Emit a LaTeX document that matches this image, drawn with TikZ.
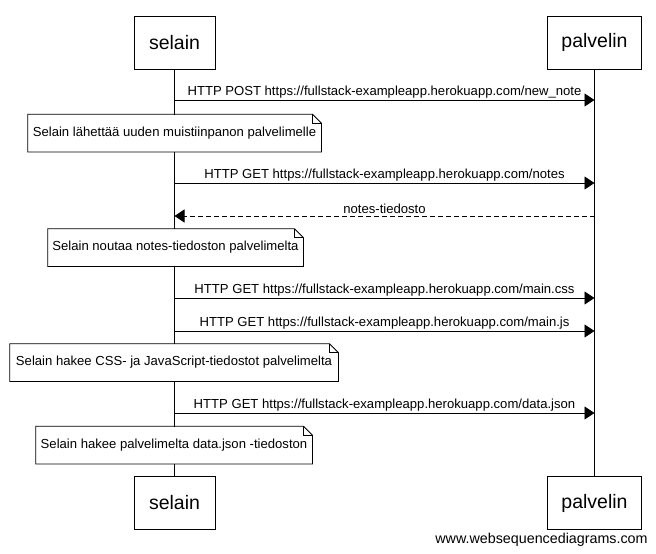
\documentclass[tikz,border=0pt]{standalone}
\usepackage{fontspec}
\setmainfont{Liberation Sans}
\usetikzlibrary{arrows.meta, calc}

% outline of a note with a folded corner
\newcommand{\foldnote}[1]{%
  \draw (#1.north west) -- ($(#1.north east)+(-9,0)$) -- ($(#1.north east)+(0,9)$)
    -- (#1.south east) -- (#1.south west) -- cycle;
  \draw ($(#1.north east)+(-9,0)$) |- ($(#1.north east)+(0,9)$);}

\begin{document}
\begin{tikzpicture}[x=1pt, y=-1pt, line width=0.75pt,
    actor/.style={draw, fill=white, minimum height=53pt, inner sep=0pt,
      font=\fontsize{19.5}{22}\selectfont},
    note/.style={fill=white, minimum height=37pt, inner sep=0pt,
      font=\fontsize{13.1}{15}\selectfont},
    msg/.style={-{Triangle[length=10pt, width=13pt]}},
    reply/.style={msg, dash pattern=on 5pt off 3pt},
    lbl/.style={above, inner sep=1.5pt, font=\fontsize{13.1}{15}\selectfont}]
    \useasboundingbox (0,0) rectangle (656,554);

    % participants
    \node[actor, minimum width=81pt] (selainTop) at (174.5,42.5) {selain};
    \node[actor, minimum width=94pt] (palvelinTop) at (594.5,42.5) {palvelin};
    \node[actor, minimum width=81pt] (selainBot) at (174.5,503) {selain};
    \node[actor, minimum width=94pt] (palvelinBot) at (594.5,503) {palvelin};

    \draw (selainTop) -- (selainBot);
    \draw (palvelinTop) -- (palvelinBot);

    % message rows on the lifelines
    \foreach \n/\y in {post/100, notes/183, file/216, css/298, js/331, data/413}{
        \coordinate (s-\n) at (174.5,\y);
        \coordinate (p-\n) at (594.5,\y);
    }

    \draw[msg] (s-post) -- node[lbl]{HTTP POST https://fullstack-exampleapp.herokuapp.com/new\_note} (p-post);
    \draw[msg] (s-notes) -- node[lbl]{HTTP GET https://fullstack-exampleapp.herokuapp.com/notes} (p-notes);
    \draw[reply] (p-file) -- node[lbl]{notes-tiedosto} (s-file);
    \draw[msg] (s-css) -- node[lbl]{HTTP GET https://fullstack-exampleapp.herokuapp.com/main.css} (p-css);
    \draw[msg] (s-js) -- node[lbl]{HTTP GET https://fullstack-exampleapp.herokuapp.com/main.js} (p-js);
    \draw[msg] (s-data) -- node[lbl]{HTTP GET https://fullstack-exampleapp.herokuapp.com/data.json} (p-data);

    % notes over selain
    \node[note, minimum width=293pt] (sendNote) at (174.5,133) {Selain lähettää uuden muistiinpanon palvelimelle};
    \foldnote{sendNote}
    \node[note, minimum width=255pt] (fetchNote) at (175.5,247.5) {Selain noutaa notes-tiedoston palvelimelta};
    \foldnote{fetchNote}
    \node[note, minimum width=328pt] (assetNote) at (174,362.5) {Selain hakee CSS- ja JavaScript-tiedostot palvelimelta};
    \foldnote{assetNote}
    \node[note, minimum width=276pt] (dataNote) at (174,445) {Selain hakee palvelimelta data.json -tiedoston};
    \foldnote{dataNote}

    \node[anchor=east, inner sep=0pt, font=\fontsize{14.3}{16}\selectfont] (watermark) at (648,540) {www.websequencediagrams.com};
\end{tikzpicture}
\end{document}
